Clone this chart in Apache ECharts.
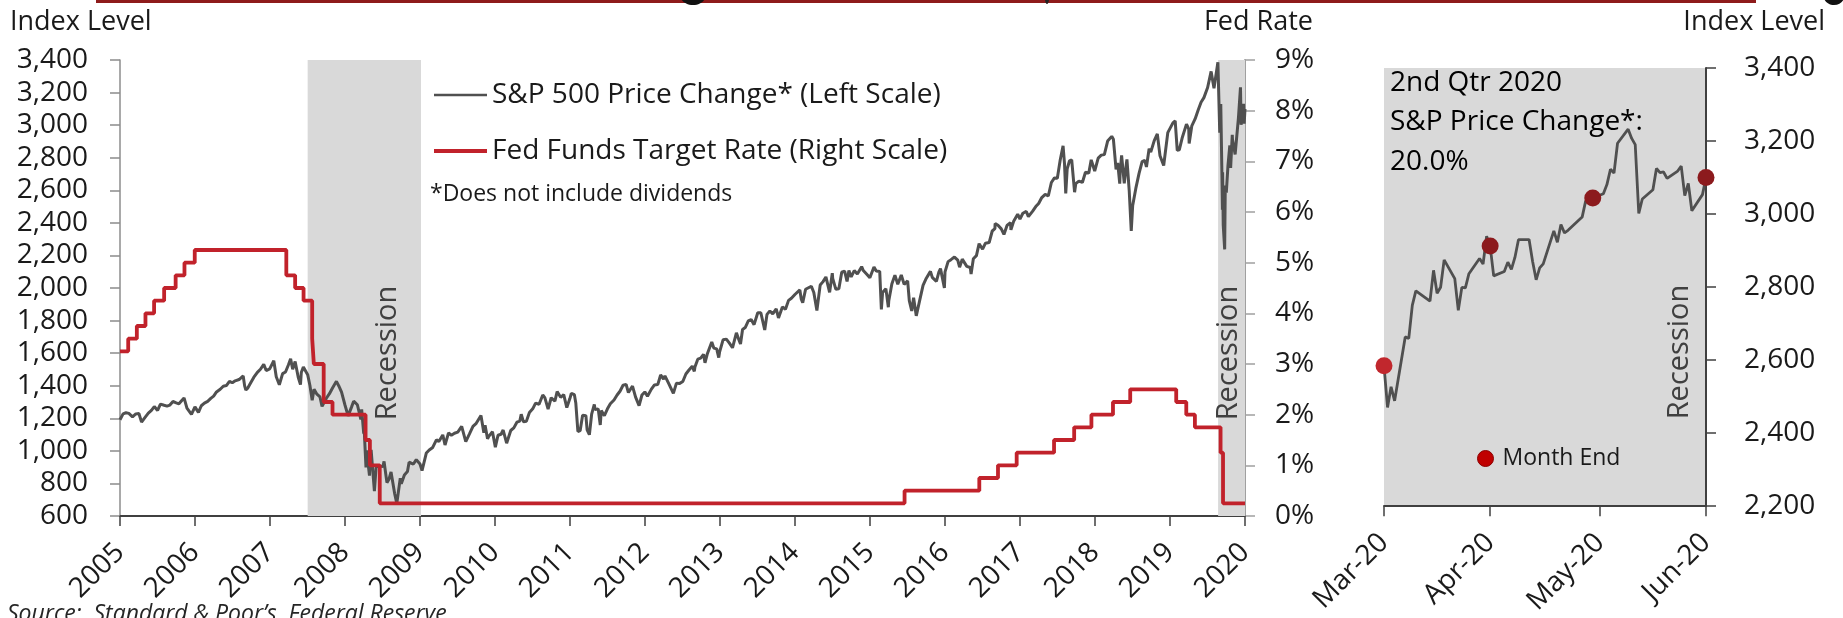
<!DOCTYPE html>
<html><head><meta charset="utf-8">
<script src="https://cdn.jsdelivr.net/npm/echarts@6/dist/echarts.min.js"></script>
<style>html,body{margin:0;padding:0;background:#fff}#c{width:1843px;height:618px}</style>
</head><body><div id="c"></div><script>
// ---------- DATA ----------
const spxMain = [
['2005-06-30',1191],['2005-07-15',1227],['2005-07-29',1234],['2005-08-12',1230],['2005-08-30',1209],['2005-09-15',1227],['2005-09-30',1229],['2005-10-13',1177],['2005-10-31',1207],['2005-11-15',1232],['2005-11-30',1249],['2005-12-14',1272],['2005-12-30',1248],
['2006-01-13',1287],['2006-01-31',1280],['2006-02-14',1275],['2006-02-28',1281],['2006-03-15',1303],['2006-03-31',1295],['2006-04-13',1289],['2006-04-28',1311],['2006-05-08',1325],['2006-05-22',1262],['2006-05-31',1270],['2006-06-13',1224],['2006-06-30',1270],['2006-07-17',1236],['2006-07-31',1277],['2006-08-15',1293],['2006-08-31',1304],['2006-09-15',1322],['2006-09-29',1336],['2006-10-13',1362],['2006-10-31',1378],['2006-11-15',1397],['2006-11-30',1401],['2006-12-15',1427],['2006-12-29',1418],
['2007-01-12',1430],['2007-01-31',1438],['2007-02-20',1460],['2007-02-27',1399],['2007-03-05',1374],['2007-03-15',1387],['2007-03-30',1421],['2007-04-13',1452],['2007-04-30',1482],['2007-05-15',1501],['2007-05-31',1531],['2007-06-12',1493],['2007-06-29',1503],['2007-07-19',1553],['2007-07-31',1455],['2007-08-15',1406],['2007-08-31',1474],['2007-09-14',1484],['2007-09-28',1527],['2007-10-09',1565],['2007-10-19',1501],['2007-10-31',1549],['2007-11-15',1452],['2007-11-26',1407],['2007-11-30',1481],['2007-12-10',1515],['2007-12-31',1468],
['2008-01-11',1401],['2008-01-22',1310],['2008-01-31',1379],['2008-02-14',1348],['2008-02-29',1331],['2008-03-10',1273],['2008-03-17',1277],['2008-03-31',1323],['2008-04-15',1351],['2008-04-30',1386],['2008-05-19',1427],['2008-05-30',1400],['2008-06-13',1360],['2008-06-30',1280],['2008-07-15',1215],['2008-07-31',1267],['2008-08-11',1305],['2008-08-29',1283],['2008-09-15',1193],['2008-09-19',1255],['2008-09-29',1106],['2008-09-30',1166],['2008-10-10',899],['2008-10-13',1003],['2008-10-27',848],['2008-10-31',969],['2008-11-04',1006],['2008-11-20',752],['2008-11-28',896],['2008-12-08',909],['2008-12-31',903],
['2009-01-06',935],['2009-01-20',805],['2009-01-30',826],['2009-02-09',870],['2009-02-27',735],['2009-03-09',677],['2009-03-26',832],['2009-03-31',798],['2009-04-15',852],['2009-04-30',873],['2009-05-08',930],['2009-05-29',919],['2009-06-12',946],['2009-06-30',919],['2009-07-10',879],['2009-07-31',987],['2009-08-14',1005],['2009-08-31',1021],['2009-09-18',1068],['2009-09-30',1057],['2009-10-19',1098],['2009-10-30',1036],['2009-11-16',1110],['2009-11-30',1096],['2009-12-15',1108],['2009-12-31',1115],
['2010-01-19',1150],['2010-02-08',1057],['2010-02-26',1104],['2010-03-15',1150],['2010-03-31',1169],['2010-04-23',1217],['2010-05-07',1111],['2010-05-13',1157],['2010-05-25',1074],['2010-05-31',1089],['2010-06-18',1117],['2010-07-02',1023],['2010-07-15',1096],['2010-07-30',1102],['2010-08-09',1128],['2010-08-26',1047],['2010-08-31',1049],['2010-09-15',1125],['2010-09-30',1141],['2010-10-15',1176],['2010-10-29',1183],['2010-11-05',1225],['2010-11-16',1178],['2010-11-30',1181],['2010-12-15',1236],['2010-12-31',1258],
['2011-01-14',1293],['2011-01-31',1286],['2011-02-18',1343],['2011-02-28',1327],['2011-03-16',1257],['2011-03-31',1326],['2011-04-18',1305],['2011-04-29',1364],['2011-05-16',1329],['2011-05-31',1345],['2011-06-15',1266],['2011-06-30',1321],['2011-07-07',1353],['2011-07-22',1345],['2011-07-29',1292],['2011-08-08',1119],['2011-08-10',1121],['2011-08-19',1124],['2011-08-31',1219],['2011-09-16',1216],['2011-09-22',1129],['2011-09-30',1131],['2011-10-03',1099],['2011-10-14',1225],['2011-10-27',1285],['2011-10-31',1253],['2011-11-15',1258],['2011-11-25',1159],['2011-11-30',1247],['2011-12-15',1216],['2011-12-30',1258],
['2012-01-13',1289],['2012-01-31',1312],['2012-02-15',1343],['2012-02-29',1366],['2012-03-15',1403],['2012-03-30',1408],['2012-04-02',1419],['2012-04-10',1358],['2012-04-30',1398],['2012-05-15',1330],['2012-06-01',1278],['2012-06-15',1343],['2012-06-29',1362],['2012-07-12',1335],['2012-07-31',1379],['2012-08-15',1405],['2012-08-31',1407],['2012-09-14',1466],['2012-09-28',1441],['2012-10-05',1461],['2012-10-23',1414],['2012-10-31',1412],['2012-11-15',1353],['2012-11-30',1416],['2012-12-14',1413],['2012-12-31',1426],
['2013-01-15',1472],['2013-01-31',1498],['2013-02-15',1520],['2013-02-25',1488],['2013-02-28',1515],['2013-03-14',1563],['2013-03-28',1569],['2013-04-11',1593],['2013-04-18',1541],['2013-04-30',1598],['2013-05-21',1669],['2013-05-31',1631],['2013-06-14',1626],['2013-06-24',1573],['2013-06-28',1606],['2013-07-15',1682],['2013-07-31',1686],['2013-08-15',1661],['2013-08-30',1633],['2013-09-18',1725],['2013-09-30',1682],['2013-10-08',1656],['2013-10-18',1745],['2013-10-31',1757],['2013-11-15',1798],['2013-11-29',1806],['2013-12-13',1775],['2013-12-31',1848],
['2014-01-15',1848],['2014-02-03',1742],['2014-02-14',1838],['2014-02-28',1859],['2014-03-14',1841],['2014-03-31',1872],['2014-04-11',1816],['2014-04-30',1884],['2014-05-15',1870],['2014-05-30',1924],['2014-06-13',1937],['2014-06-30',1960],['2014-07-24',1988],['2014-07-31',1931],['2014-08-07',1910],['2014-08-21',1992],['2014-08-29',2003],['2014-09-18',2011],['2014-09-30',1972],['2014-10-15',1862],['2014-10-31',2018],['2014-11-14',2039],['2014-11-28',2068],['2014-12-16',1973],['2014-12-29',2091],['2014-12-31',2059],
['2015-01-15',1993],['2015-01-30',1995],['2015-02-13',2097],['2015-02-27',2104],['2015-03-11',2040],['2015-03-20',2108],['2015-03-31',2068],['2015-04-15',2107],['2015-04-30',2086],['2015-05-21',2131],['2015-05-29',2107],['2015-06-15',2084],['2015-06-30',2063],['2015-07-20',2129],['2015-07-31',2104],['2015-08-17',2102],['2015-08-25',1868],['2015-08-31',1972],['2015-09-16',1996],['2015-09-28',1882],['2015-09-30',1920],['2015-10-15',2024],['2015-10-30',2079],['2015-11-13',2023],['2015-11-30',2080],['2015-12-14',2022],['2015-12-31',2044],
['2016-01-08',1922],['2016-01-20',1859],['2016-01-29',1940],['2016-02-11',1829],['2016-02-29',1932],['2016-03-15',2016],['2016-03-31',2060],['2016-04-20',2102],['2016-04-29',2065],['2016-05-19',2040],['2016-05-31',2097],['2016-06-08',2119],['2016-06-27',2001],['2016-06-30',2099],['2016-07-15',2162],['2016-07-29',2174],['2016-08-15',2190],['2016-08-31',2171],['2016-09-09',2128],['2016-09-22',2177],['2016-09-30',2168],['2016-10-14',2133],['2016-10-31',2126],['2016-11-04',2085],['2016-11-15',2180],['2016-11-30',2199],['2016-12-13',2272],['2016-12-30',2239],
['2017-01-13',2275],['2017-01-31',2279],['2017-02-15',2350],['2017-02-28',2364],['2017-03-01',2396],['2017-03-15',2385],['2017-03-31',2363],['2017-04-13',2329],['2017-04-28',2384],['2017-05-15',2402],['2017-05-17',2357],['2017-05-31',2412],['2017-06-19',2453],['2017-06-30',2423],['2017-07-14',2459],['2017-07-31',2470],['2017-08-10',2438],['2017-08-18',2426],['2017-08-31',2472],['2017-09-15',2500],['2017-09-29',2519],['2017-10-13',2553],['2017-10-31',2575],['2017-11-15',2565],['2017-11-30',2648],['2017-12-15',2676],['2017-12-29',2674],
['2018-01-12',2786],['2018-01-26',2873],['2018-02-02',2762],['2018-02-08',2581],['2018-02-15',2731],['2018-02-26',2780],['2018-03-09',2786],['2018-03-23',2588],['2018-03-29',2641],['2018-04-13',2656],['2018-04-30',2648],['2018-05-15',2711],['2018-05-31',2705],['2018-06-12',2787],['2018-06-29',2718],['2018-07-16',2798],['2018-07-31',2816],['2018-08-15',2819],['2018-08-31',2902],['2018-09-20',2931],['2018-09-28',2914],['2018-10-11',2729],['2018-10-19',2768],['2018-10-29',2641],['2018-10-31',2712],['2018-11-07',2814],['2018-11-20',2642],['2018-11-30',2760],['2018-12-03',2790],['2018-12-14',2600],['2018-12-24',2351],['2018-12-31',2507],
['2019-01-15',2610],['2019-01-31',2704],['2019-02-15',2776],['2019-02-28',2784],['2019-03-08',2743],['2019-03-21',2855],['2019-03-29',2834],['2019-04-15',2905],['2019-04-30',2946],['2019-05-13',2812],['2019-05-31',2752],['2019-06-03',2744],['2019-06-20',2954],['2019-06-28',2942],['2019-07-15',3014],['2019-07-26',3026],['2019-08-05',2845],['2019-08-15',2848],['2019-08-30',2926],['2019-09-19',3006],['2019-09-30',2977],['2019-10-02',2887],['2019-10-15',2996],['2019-10-31',3038],['2019-11-15',3093],['2019-11-29',3141],['2019-12-13',3169],['2019-12-31',3231],
['2020-01-17',3330],['2020-01-31',3226],['2020-02-19',3386],['2020-02-28',2954],['2020-03-04',3130],['2020-03-09',2747],['2020-03-12',2481],['2020-03-13',2711],['2020-03-16',2386],['2020-03-23',2237],['2020-03-26',2630],['2020-03-31',2585],['2020-04-08',2750],['2020-04-17',2875],['2020-04-21',2737],['2020-04-29',2940],['2020-04-30',2912],['2020-05-13',2820],['2020-05-29',3044],['2020-06-08',3232],['2020-06-11',3002],['2020-06-23',3131],['2020-06-26',3009],['2020-06-30',3100]
];
const fedRate = [
['2005-06-30',3.25],['2005-08-09',3.5],['2005-09-20',3.75],['2005-11-01',4.0],['2005-12-13',4.25],['2006-01-31',4.5],['2006-03-28',4.75],['2006-05-10',5.0],['2006-06-29',5.25],
['2007-09-18',4.75],['2007-10-31',4.5],['2007-12-11',4.25],['2008-01-22',3.5],['2008-01-30',3.0],['2008-03-18',2.25],['2008-04-30',2.0],['2008-10-08',1.5],['2008-10-29',1.0],['2008-12-16',0.25],
['2015-12-16',0.5],['2016-12-14',0.75],['2017-03-15',1.0],['2017-06-14',1.25],['2017-12-13',1.5],['2018-03-21',1.75],['2018-06-13',2.0],['2018-09-26',2.25],['2018-12-19',2.5],
['2019-07-31',2.25],['2019-09-18',2.0],['2019-10-30',1.75],['2020-03-03',1.25],['2020-03-15',0.25],['2020-06-30',0.25]
];
const spxQ2 = [
['2020-03-31',2584.59],['2020-04-01',2470.50],['2020-04-02',2526.90],['2020-04-03',2488.65],['2020-04-06',2663.68],['2020-04-07',2659.41],['2020-04-08',2749.98],['2020-04-09',2789.82],['2020-04-13',2761.63],['2020-04-14',2846.06],['2020-04-15',2783.36],['2020-04-16',2799.55],['2020-04-17',2874.56],['2020-04-20',2823.16],['2020-04-21',2736.56],['2020-04-22',2799.31],['2020-04-23',2797.80],['2020-04-24',2836.74],['2020-04-27',2878.48],['2020-04-28',2863.39],['2020-04-29',2939.51],['2020-04-30',2912.43],
['2020-05-01',2830.71],['2020-05-04',2842.74],['2020-05-05',2868.44],['2020-05-06',2848.42],['2020-05-07',2881.19],['2020-05-08',2929.80],['2020-05-11',2930.32],['2020-05-12',2870.12],['2020-05-13',2820.00],['2020-05-14',2852.50],['2020-05-15',2863.70],['2020-05-18',2953.91],['2020-05-19',2922.94],['2020-05-20',2971.61],['2020-05-21',2948.51],['2020-05-22',2955.45],['2020-05-26',2991.77],['2020-05-27',3036.13],['2020-05-28',3029.73],['2020-05-29',3044.31],
['2020-06-01',3055.73],['2020-06-02',3080.82],['2020-06-03',3122.87],['2020-06-04',3112.35],['2020-06-05',3193.93],['2020-06-08',3232.39],['2020-06-09',3207.18],['2020-06-10',3190.14],['2020-06-11',3002.10],['2020-06-12',3041.31],['2020-06-15',3066.59],['2020-06-16',3124.74],['2020-06-17',3113.49],['2020-06-18',3115.34],['2020-06-19',3097.74],['2020-06-22',3117.86],['2020-06-23',3131.29],['2020-06-24',3050.33],['2020-06-25',3083.76],['2020-06-26',3009.05],['2020-06-29',3053.24],['2020-06-30',3100.29]
];
const monthEnd = [['2020-03-31',2584.59],['2020-04-30',2912.43],['2020-05-29',3044.31],['2020-06-30',3100.29]];
const recessions = [['2007-12-31','2009-07-05'],['2020-02-20','2020-06-30']];
const yearTicks = ['2005-06-30','2006-06-30','2007-06-30','2008-06-30','2009-06-30','2010-06-30','2011-06-30','2012-06-30','2013-06-30','2014-06-30','2015-06-30','2016-06-30','2017-06-30','2018-06-30','2019-06-30','2020-06-30'];
const monthTicks = ['2020-03-31','2020-04-30','2020-05-31','2020-06-30'];
const monthNames = ['Jan','Feb','Mar','Apr','May','Jun','Jul','Aug','Sep','Oct','Nov','Dec'];

// ---------- CHART ----------
const ts = s => { const p = s.split('-').map(Number); return Date.UTC(p[0], p[1]-1, p[2]); };
const toXY = arr => arr.map(d => [ts(d[0]), d[1]]);
const FONT = '"Open Sans", sans-serif';
const TXT = '#1a1a1a';
const chart = echarts.init(document.getElementById('c'));
const lab = {fontFamily: FONT, fontSize: 28, color: TXT};
const txt = (o) => Object.assign({type: 'text', z: 50}, o);

chart.setOption({
  animation: false,
  textStyle: {fontFamily: FONT},
  grid: [
    {left: 120, top: 60, width: 1125, height: 456},
    {left: 1384, top: 68, width: 322, height: 448, show: true, backgroundColor: '#d9d9d9', borderWidth: 0}
  ],
  xAxis: [
    {type: 'value', gridIndex: 0, min: ts('2005-06-30'), max: ts('2020-06-30'), splitLine: {show: false},
     axisLine: {lineStyle: {color: '#404040', width: 2}},
     axisTick: {length: 10, lineStyle: {color: '#404040', width: 1.5}, customValues: yearTicks.map(ts)},
     axisLabel: Object.assign({}, lab, {rotate: 45, margin: 32, customValues: yearTicks.map(ts),
        formatter: v => String(new Date(v).getUTCFullYear())})},
    {type: 'value', gridIndex: 1, min: ts('2020-03-31'), max: ts('2020-06-30'), splitLine: {show: false},
     axisLine: {lineStyle: {color: '#404040', width: 2}},
     axisTick: {length: 10, lineStyle: {color: '#404040', width: 1.5}, customValues: monthTicks.map(ts)},
     axisLabel: Object.assign({}, lab, {rotate: 45, margin: 32, customValues: monthTicks.map(ts),
        formatter: v => { const d = new Date(v); return monthNames[d.getUTCMonth()] + '-' + String(d.getUTCFullYear()).slice(2); }})}
  ],
  yAxis: [
    {type: 'value', gridIndex: 0, min: 600, max: 3400, interval: 200, position: 'left', splitLine: {show: false},
     axisLine: {show: true, lineStyle: {color: '#8c8c8c', width: 1.5}},
     axisTick: {show: true, length: 10, lineStyle: {color: '#8c8c8c', width: 1.5}},
     axisLabel: Object.assign({}, lab, {margin: 32, formatter: v => v.toLocaleString('en-US')})},
    {type: 'value', gridIndex: 0, min: 0, max: 9, interval: 1, position: 'right', splitLine: {show: false},
     axisLine: {show: true, lineStyle: {color: '#a0a0a0', width: 2}},
     axisTick: {show: true, length: 10, lineStyle: {color: '#a0a0a0', width: 1.5}},
     axisLabel: Object.assign({}, lab, {margin: 30, formatter: v => v + '%'})},
    {type: 'value', gridIndex: 1, min: 2200, max: 3400, interval: 200, position: 'right', splitLine: {show: false},
     axisLine: {show: true, lineStyle: {color: '#404040', width: 2}},
     axisTick: {show: true, length: 10, lineStyle: {color: '#404040', width: 1.5}},
     axisLabel: Object.assign({}, lab, {margin: 38, formatter: v => v.toLocaleString('en-US')})}
  ],
  legend: [
    {data: [{name: 'S&P 500 Price Change* (Left Scale)', icon: 'path://M0 0H53V2.4H0Z'},
            {name: 'Fed Funds Target Rate (Right Scale)', icon: 'path://M0 0H53V4H0Z'}],
     orient: 'vertical', left: 429, top: 76, itemWidth: 53, itemHeight: 14, itemGap: 28,
     textStyle: {fontFamily: FONT, fontSize: 28, color: TXT}},
    {data: [{name: 'Month End', itemStyle: {color: '#c00000', borderColor: '#8b0000', borderWidth: 1}}],
     left: 1472, top: 442, itemWidth: 16, itemHeight: 16, icon: 'circle',
     textStyle: {fontFamily: FONT, fontSize: 23, color: TXT, padding: [0, 0, 0, 4]}}
  ],
  series: [
    {name: 'S&P 500 Price Change* (Left Scale)', type: 'line', xAxisIndex: 0, yAxisIndex: 0, z: 3,
     data: toXY(spxMain), symbol: 'none', lineStyle: {color: '#505050', width: 3}, itemStyle: {color: '#505050'},
     markArea: {silent: true, itemStyle: {color: '#d9d9d9'},
       data: recessions.map(r => [{xAxis: ts(r[0])}, {xAxis: ts(r[1])}])}},
    {name: 'Fed Funds Target Rate (Right Scale)', type: 'line', xAxisIndex: 0, yAxisIndex: 1, z: 4, step: 'end',
     data: toXY(fedRate), symbol: 'none', lineStyle: {color: '#c1222b', width: 3.8}, itemStyle: {color: '#c1222b'}},
    {name: 'Q2 S&P', type: 'line', xAxisIndex: 1, yAxisIndex: 2, z: 3,
     data: toXY(spxQ2), symbol: 'none', lineStyle: {color: '#505050', width: 2.8}},
    {name: 'Month End', type: 'scatter', xAxisIndex: 1, yAxisIndex: 2, z: 5, symbolSize: 17,
     itemStyle: {color: '#8c1a1d', opacity: 1},
     data: toXY(monthEnd).map((d, i) => i === 0 ? {value: d, itemStyle: {color: '#c1272d', opacity: 1}} : d)}
  ],
  graphic: [
    {type: 'rect', z: 50, shape: {x: 96, y: 0, width: 1660, height: 3}, style: {fill: '#8e1b1b'}},
    {type: 'ellipse', z: 50, shape: {cx: 693, cy: -3, rx: 12, ry: 8}, style: {fill: '#111'}},
    {type: 'ellipse', z: 50, shape: {cx: 1047, cy: -1, rx: 2, ry: 5}, style: {fill: '#222'}},
    {type: 'ellipse', z: 50, shape: {cx: 1834, cy: -3, rx: 10, ry: 8}, style: {fill: '#111'}},
    txt({x: 10, y: 22, style: {text: 'Index Level', fontFamily: FONT, fontSize: 27, fill: TXT, verticalAlign: 'middle'}}),
    txt({x: 1313, y: 22, style: {text: 'Fed Rate', fontFamily: FONT, fontSize: 27, fill: TXT, align: 'right', verticalAlign: 'middle'}}),
    txt({x: 1825, y: 22, style: {text: 'Index Level', fontFamily: FONT, fontSize: 27, fill: TXT, align: 'right', verticalAlign: 'middle'}}),
    txt({x: 430, y: 194, style: {text: '*Does not include dividends', fontFamily: FONT, fontSize: 23, fill: TXT, verticalAlign: 'middle'}}),
    txt({x: 1390, y: 83, style: {text: '2nd Qtr 2020', fontFamily: FONT, fontSize: 28, fill: '#000', verticalAlign: 'middle'}}),
    txt({x: 1390, y: 122, style: {text: 'S&P Price Change*:', fontFamily: FONT, fontSize: 28, fill: '#000', verticalAlign: 'middle'}}),
    txt({x: 1390, y: 162, style: {text: '20.0%', fontFamily: FONT, fontSize: 28, fill: '#000', verticalAlign: 'middle'}}),
    txt({x: 388, y: 353, rotation: Math.PI / 2, style: {text: 'Recession', fontFamily: FONT, fontSize: 29, fill: '#404040', align: 'center', verticalAlign: 'middle'}}),
    txt({x: 1229, y: 353, rotation: Math.PI / 2, style: {text: 'Recession', fontFamily: FONT, fontSize: 29, fill: '#404040', align: 'center', verticalAlign: 'middle'}}),
    txt({x: 1680, y: 352, rotation: Math.PI / 2, style: {text: 'Recession', fontFamily: FONT, fontSize: 29, fill: '#404040', align: 'center', verticalAlign: 'middle'}}),
    txt({x: 7, y: 603, style: {text: 'Source:  Standard & Poor\u2019s, Federal Reserve', fontFamily: FONT, fontSize: 23, fontStyle: 'italic', fill: '#262626', verticalAlign: 'top'}})
  ]
});
</script></body></html>
